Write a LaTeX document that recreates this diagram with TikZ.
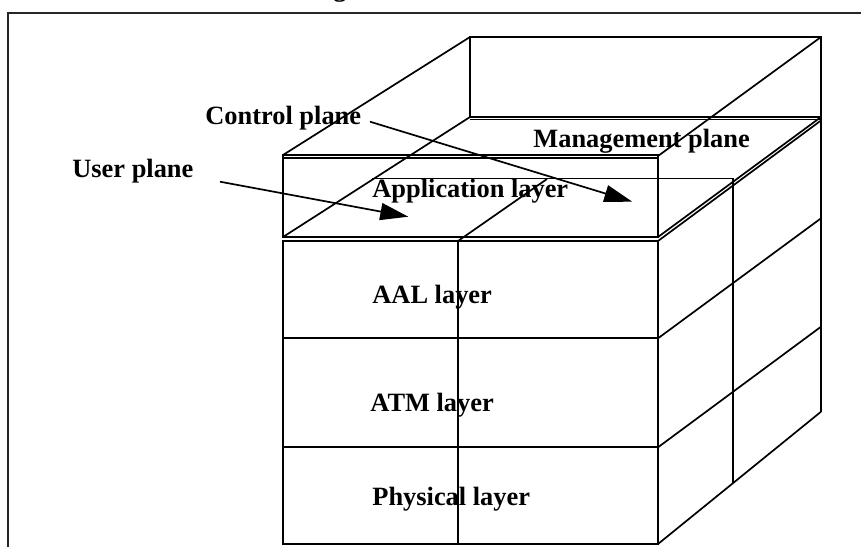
\documentclass[tikz,border=0pt]{standalone}
\usepackage{fontspec}
\setmainfont{Liberation Serif}
\usetikzlibrary{arrows.meta}
\begin{document}
\begin{tikzpicture}[x=0.5pt,y=-0.5pt,
  edge/.style={line width=0.85pt, line join=miter},
  frame/.style={line width=1pt, draw=black!85},
  pointer/.style={line width=0.85pt, -{Triangle[length=14pt,width=8.5pt]}},
  lbl/.style={anchor=base west, inner sep=0pt,
    font=\fontsize{13.2}{15}\selectfont\bfseries}]
\useasboundingbox (0,0) rectangle (861,547);
\fill[white] (0,0) rectangle (861,547);

% caption fragment above the frame
\node[lbl] (capfrag) at (333,-3.5) {g};

% outer frame
\draw[frame] (861,13) -- (8,13) -- (8,547);

% --- upper slab: application layer ---
\draw[edge] (283,155) rectangle (658,237);
\draw[edge] (283,158) -- (658,158);
% back face of the slab
\draw[edge] (470,37) rectangle (821,117);
\draw[edge] (470,119.5) -- (821,119.5);
% depth edges of the slab
\draw[edge] (283,155) -- (470,37);
\draw[edge] (283,237) -- (470,117);
\draw[edge] (658,156) -- (821,37);
\draw[edge] (658,237) -- (821,117);

% --- lower block: AAL, ATM, physical ---
\draw[edge] (283,241) rectangle (658,544);
\draw[edge] (283,338.3) -- (658,338.3);
\draw[edge] (283,447.3) -- (658,447.3);
\draw[edge] (458,241) -- (458,544);
% right side face
\draw[edge] (658,241) -- (821,120.5);
\draw[edge] (658,338.3) -- (821,218.3);
\draw[edge] (658,447.3) -- (821,326.7);
\draw[edge] (658,544) -- (821,411.7);
\draw[edge] (821,37) -- (821,411.7);

% plane boundaries inside the cube
\draw[edge] (372,178.5) -- (733,178.5) -- (733,483);
\draw[edge] (458,241) -- (547,179);

% labels
\node[lbl] (mgmt) at (533,147) {Management plane};
\node[lbl] (ctrl) at (205,124) {Control plane};
\node[lbl] (user) at (72,177) {User plane};
\node[lbl] (app)  at (372,197) {Application layer};
\node[lbl] (aal)  at (372,303) {AAL layer};
\node[lbl] (atm)  at (370,411) {ATM layer};
\node[lbl] (phy)  at (372,505) {Physical layer};

% plane pointers
\coordinate (cp-tail) at (370,121.7);
\coordinate (cp-tip)  at (632.3,201.7);
\coordinate (up-tail) at (220,181.7);
\coordinate (up-tip)  at (408.3,216.7);
\draw[pointer] (cp-tail) -- (cp-tip);
\draw[pointer] (up-tail) -- (up-tip);
\end{tikzpicture}
\end{document}
